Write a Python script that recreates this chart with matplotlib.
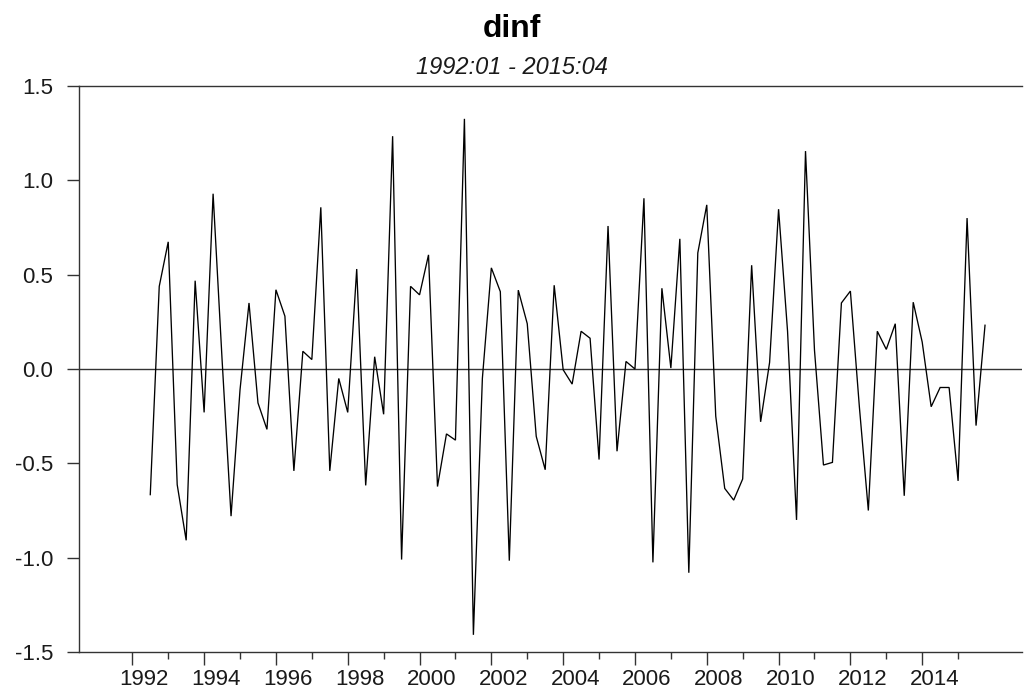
import numpy as np
import matplotlib
matplotlib.use("Agg")
import matplotlib.pyplot as plt
from matplotlib.ticker import MultipleLocator, FormatStrFormatter
from matplotlib.transforms import ScaledTranslation

# Quarterly change in inflation, 1992:3 - 2015:4
start_year = 1992
start_quarter = 3
dinf = [
    -0.666, 0.438,
    0.674, -0.613, -0.908, 0.468,
    -0.230, 0.929, 0.050, -0.780,
    -0.110, 0.350, -0.180, -0.320,
    0.420, 0.280, -0.540, 0.094,
    0.050, 0.857, -0.540, -0.050,
    -0.230, 0.530, -0.617, 0.065,
    -0.240, 1.234, -1.010, 0.438,
    0.393, 0.605, -0.623, -0.344,
    -0.377, 1.326, -1.409, -0.050,
    0.536, 0.410, -1.016, 0.418,
    0.240, -0.357, -0.534, 0.444,
    -0.004, -0.080, 0.200, 0.163,
    -0.480, 0.758, -0.436, 0.040,
    0.000, 0.905, -1.025, 0.428,
    0.005, 0.690, -1.080, 0.615,
    0.870, -0.250, -0.633, -0.695,
    -0.583, 0.550, -0.280, 0.035,
    0.847, 0.200, -0.800, 1.155,
    0.100, -0.509, -0.495, 0.350,
    0.413, -0.200, -0.750, 0.200,
    0.104, 0.240, -0.672, 0.354,
    0.143, -0.200, -0.098, -0.098,
    -0.593, 0.800, -0.300, 0.232,
]
title = "dinf"
subtitle = "1992:01 - 2015:04"
year_labels = list(range(1992, 2015, 2))

t = start_year + (start_quarter - 1) / 4 + np.arange(len(dinf)) / 4

plt.rcParams["font.family"] = ["Liberation Sans", "DejaVu Sans"]

fig = plt.figure(figsize=(10.26, 6.90), dpi=100)
ax = fig.add_axes([79 / 1026, 1 - 652 / 690, (1022 - 79) / 1026, (652 - 86) / 690])

ax.plot(t, dinf, color="black", lw=0.95, solid_joinstyle="miter")
ax.axhline(0, color="#333333", lw=1.0, zorder=1)

ax.set_xlim(1990.515, 2016.78)
ax.set_ylim(-1.5, 1.5)

ax.set_xticks(year_labels)
ax.set_xticklabels([str(y) for y in year_labels])
ax.set_xticks([y + 1 for y in year_labels], minor=True)
ax.yaxis.set_major_locator(MultipleLocator(0.5))
ax.yaxis.set_major_formatter(FormatStrFormatter("%.1f"))

for side in ("left", "bottom", "top"):
    ax.spines[side].set_color("#333333")
    ax.spines[side].set_linewidth(1.0)
ax.spines["right"].set_visible(False)

ax.tick_params(axis="x", which="major", direction="out", length=9.5, width=1.0,
               color="#333333", labelsize=16, labelcolor="#1a1a1a", pad=3)
ax.tick_params(axis="x", which="minor", direction="out", length=5, width=1.0,
               color="#333333")
ax.tick_params(axis="y", which="major", direction="out", length=8.8, width=1.0,
               color="#333333", labelsize=16, labelcolor="#1a1a1a", pad=10)

# year labels sit a little to the right of their tick marks
shift = ScaledTranslation(12 / 100, 0, fig.dpi_scale_trans)
for lab in ax.get_xticklabels():
    lab.set_transform(lab.get_transform() + shift)

fig.text(0.499, 1 - 29 / 690, title, ha="center", va="center",
         fontsize=23, fontweight="bold", color="black")
fig.text(0.499, 1 - 68 / 690, subtitle, ha="center", va="center",
         fontsize=17, fontstyle="italic", color="#1a1a1a")

fig.savefig("out.png", dpi=100, facecolor="white")
